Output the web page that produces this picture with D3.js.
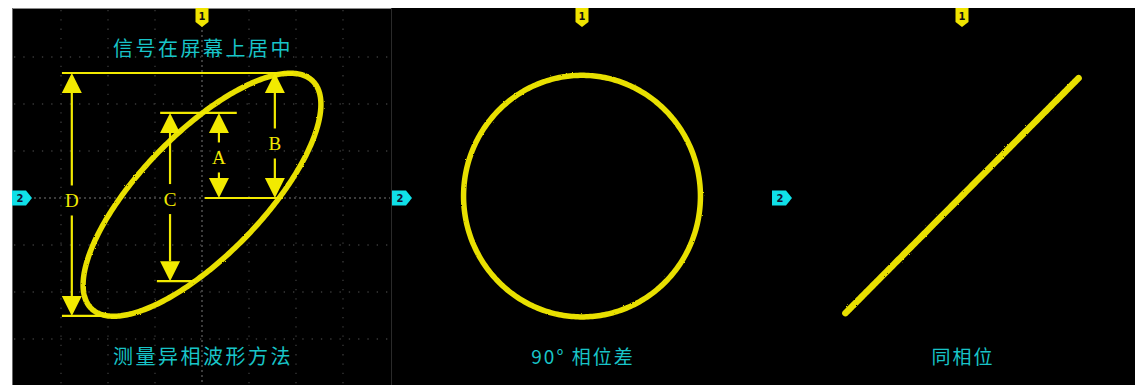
<!DOCTYPE html>
<html><head><meta charset="utf-8">
<script src="https://cdn.jsdelivr.net/npm/d3@7"></script>
<style>body{margin:0;background:#fff;}svg{display:block;}</style>
</head><body>
<svg id="chart" width="1135" height="385"></svg>
<script>
// ---- data ----
const panelNames = ["异相", "90°", "同相"];
const phaseDeg = [42, 90, 0];            // phase difference between CH1 and CH2
const ampX = [2.53, 2.52, 2.48];         // divisions
const ampY = [2.585, 2.57, 2.5];         // divisions
const offY = [0.07, 0.04, 0.05];         // divisions
const topTitles = ["信号在屏幕上居中", "", ""];
const captions = ["测量异相波形方法", "90° 相位差", "同相位"];
const measureNames = ["A", "B", "C", "D"];
const measureX = [0.36, 1.55, -0.68, -2.77];
const measureLo = [0, 0, -1.77, -2.51];
const measureHi = [1.81, 2.66, 1.81, 2.66];
const refY = [2.66, -2.51, 1.81, -1.77, 0];
const refX0 = [-2.98, -2.98, -0.89, -0.96, 0.06];
const refX1 = [1.94, -1.74, 0.74, -0.15, 1.72];
const gridTicks = [-4, -3, -2, -1, 0, 1, 2, 3, 4];

// ---- layout ----
const W = 1135, H = 385;
const centers = [202, 582, 962];
const divPx = 47;
const YEL = "#f2ea00", CYAN = "#18c4c8";
const svg = d3.select("#chart");
const defs = svg.append("defs");
const f = defs.append("filter").attr("id", "fuzz").attr("x", "-5%").attr("y", "-5%").attr("width", "110%").attr("height", "110%");
f.append("feTurbulence").attr("type", "fractalNoise").attr("baseFrequency", 0.9).attr("numOctaves", 1).attr("seed", 3).attr("result", "n");
f.append("feDisplacementMap").attr("in", "SourceGraphic").attr("in2", "n").attr("scale", 2.2);

svg.append("rect").attr("x", 12).attr("y", 8).attr("width", W - 12).attr("height", H - 8).attr("fill", "#000");
// panel 1 frame
svg.append("line").attr("x1", 12).attr("x2", 391).attr("y1", 8.5).attr("y2", 8.5).attr("stroke", "#8a8a8a");
svg.append("line").attr("x1", 12.5).attr("x2", 12.5).attr("y1", 8).attr("y2", H).attr("stroke", "#6a6a6a");
svg.append("line").attr("x1", 391.5).attr("x2", 391.5).attr("y1", 8).attr("y2", H).attr("stroke", "#2a2a2a");

const yScale = d3.scaleLinear().domain([-4, 4]).range([198 + 4 * divPx, 198 - 4 * divPx]);

panelNames.forEach((name, i) => {
  const cx = centers[i];
  const x = d3.scaleLinear().domain([-4, 4]).range([cx - 4 * divPx, cx + 4 * divPx]);
  const y = yScale;
  const g = svg.append("g");

  if (i === 0) {
    const grid = g.append("g");
    gridTicks.filter(t => Math.abs(t) < 4).forEach(t => {
      const c = t === 0;
      grid.append("line").attr("x1", x(t)).attr("x2", x(t)).attr("y1", 10).attr("y2", H)
        .attr("stroke", c ? "#505050" : "#3a3a3a").attr("stroke-width", c ? 1.5 : 1.3)
        .attr("stroke-dasharray", c ? "2,3" : "1.3,8");
      grid.append("line").attr("y1", y(t)).attr("y2", y(t)).attr("x1", 14).attr("x2", 390)
        .attr("stroke", c ? "#505050" : "#3a3a3a").attr("stroke-width", c ? 1.5 : 1.3)
        .attr("stroke-dasharray", c ? "2,3" : "1.3,8");
    });
  }

  // Lissajous trace
  const phi = phaseDeg[i] * Math.PI / 180;
  const ts = d3.range(0, 361, 1).map(d => d * Math.PI / 180);
  const line = d3.line()
    .x(t => x(ampX[i] * Math.sin(t)))
    .y(t => y(offY[i] + ampY[i] * Math.sin(t + phi)))
    .curve(d3.curveLinear);
  g.append("path").attr("d", line(ts)).attr("fill", "none")
    .attr("stroke", "#e8e000").attr("stroke-width", i === 2 ? 6.5 : 5.5)
    .attr("stroke-linecap", "round").attr("stroke-linejoin", "round")
    .attr("filter", "url(#fuzz)");

  if (i === 0) {
    const ann = g.append("g");
    refY.forEach((ry, k) => {
      ann.append("line").attr("x1", x(refX0[k])).attr("x2", x(refX1[k]))
        .attr("y1", y(ry)).attr("y2", y(ry)).attr("stroke", YEL).attr("stroke-width", 2.2);
    });
    measureNames.forEach((m, k) => {
      const mx = x(measureX[k]);
      const yTop = y(measureHi[k]), yBot = y(measureLo[k]);
      const ah = 20, aw = 10;
      ann.append("path").attr("d", `M${mx},${yTop} L${mx - aw},${yTop + ah} L${mx + aw},${yTop + ah} Z`).attr("fill", YEL);
      ann.append("path").attr("d", `M${mx},${yBot} L${mx - aw},${yBot - ah} L${mx + aw},${yBot - ah} Z`).attr("fill", YEL);
      const mid = (yTop + yBot) / 2 + (m === "B" ? 8 : m === "D" ? 6 : 2);
      ann.append("line").attr("x1", mx).attr("x2", mx).attr("y1", yTop + ah).attr("y2", mid - 15).attr("stroke", YEL).attr("stroke-width", 2.2);
      ann.append("line").attr("x1", mx).attr("x2", mx).attr("y1", mid + 15).attr("y2", yBot - ah).attr("stroke", YEL).attr("stroke-width", 2.2);
      ann.append("text").attr("x", mx).attr("y", mid).attr("text-anchor", "middle").attr("dominant-baseline", "central")
        .attr("font-family", "'Liberation Serif', serif").attr("font-size", 19).attr("fill", YEL).text(m);
    });
  }

  // CH1 marker (top)
  const mx1 = x(0);
  svg.append("path").attr("d", `M${mx1 - 6.5},8 L${mx1 + 6.5},8 L${mx1 + 6.5},22 L${mx1},27 L${mx1 - 6.5},22 Z`).attr("fill", "#f0e400");
  svg.append("text").attr("x", mx1).attr("y", 19.5).attr("text-anchor", "middle")
    .attr("font-family", "'DejaVu Sans', sans-serif").attr("font-weight", "bold").attr("font-size", 10).attr("fill", "#111").text("1");
  // CH2 marker (left)
  const lx = cx - 190, my = y(0);
  svg.append("path").attr("d", `M${lx},${my - 7.5} L${lx + 14},${my - 7.5} L${lx + 20},${my} L${lx + 14},${my + 7.5} L${lx},${my + 7.5} Z`).attr("fill", "#10e0e8");
  svg.append("text").attr("x", lx + 8).attr("y", my + 4).attr("text-anchor", "middle")
    .attr("font-family", "'DejaVu Sans', sans-serif").attr("font-weight", "bold").attr("font-size", 10).attr("fill", "#113").text("2");

  if (topTitles[i]) {
    svg.append("text").attr("x", cx + 1).attr("y", 56).attr("text-anchor", "middle")
      .attr("font-family", "'Noto Sans CJK SC', sans-serif").attr("font-size", 20).attr("letter-spacing", 2.5)
      .attr("fill", CYAN).text(topTitles[i]);
  }
  svg.append("text").attr("x", cx + 1).attr("y", 364).attr("text-anchor", "middle")
    .attr("font-family", "'Noto Sans CJK SC', sans-serif").attr("font-size", i === 0 ? 20 : 19)
    .attr("letter-spacing", i === 0 ? 2.5 : 2)
    .attr("fill", CYAN).text(captions[i]);
});
</script>
</body></html>
